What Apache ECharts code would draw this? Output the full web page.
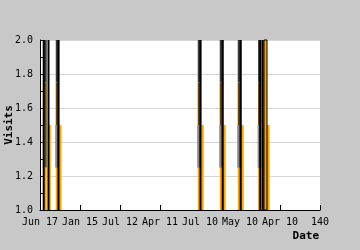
<!DOCTYPE html>
<html><head><meta charset="utf-8">
<script src="https://cdn.jsdelivr.net/npm/echarts@6/dist/echarts.min.js"></script>
<style>html,body{margin:0;padding:0;background:#c8c8c8}#c{width:360px;height:250px}</style>
</head><body><div id="c"></div>
<script>
// x axis tick labels (one per 20 units from 0 to 140)
const xTickLabels = ['Jun 17','Jan 15','Jul 12','Apr 11','Jul 10','May 10','Apr 10','140'];
// black spikes
const spikeX   = [1.85, 4.25, 9.25, 80.25, 91.35, 100.35, 110.1, 111.35];
const spikeVal = [2, 2, 2, 2, 2, 2, 2, 2];
// tall orange bars (shaded upper part)
const tallX    = [2.5, 8.75, 79.75, 90.75, 99.75, 109.9];
const tallVal  = [1.75, 1.75, 1.75, 1.75, 1.75, 1.75];
// short orange bars
const shortX   = [4.65, 10, 81.1, 92.1, 101.1, 111.5, 114];
const shortVal = [1.5, 1.5, 1.5, 1.5, 1.5, 1.5, 1.5];
// full-height orange bars
const fullX    = [112.75];
const fullVal  = [2.0];

const FONT = 'DejaVu Sans Mono';
const Y0 = 1;

function seg(api, x, y0, y1, w, style) {
  const a = api.coord([x, y0]), b = api.coord([x, y1]);
  return {type:'rect', shape:{x:a[0]-w/2, y:b[1], width:w, height:a[1]-b[1]}, style:style};
}
function zip(xs, vs){ return xs.map((x,i)=>[x, vs[i]]); }

const chart = echarts.init(document.getElementById('c'), null, {renderer:'canvas'});
chart.setOption({
  backgroundColor:'#c8c8c8',
  animation:false,
  grid:{left:40, right:40, top:40, bottom:40, containLabel:false, outerBoundsMode:'none', show:true, backgroundColor:'#ffffff', borderWidth:0},
  xAxis:{
    type:'value', min:0, max:140, interval:20,
    name:'Date', nameLocation:'end', nameGap:-1, nameMoveOverlap:false,
    nameTextStyle:{fontFamily:FONT, fontWeight:'bold', fontSize:11, color:'#000', align:'right', verticalAlign:'top', padding:[21,0,0,0]},
    axisLine:{show:true, onZero:false, lineStyle:{color:'#000', width:1}},
    axisTick:{show:true, inside:true, length:5, lineStyle:{color:'#000'}},
    axisLabel:{fontFamily:FONT, fontSize:10, color:'#000', margin:7, formatter:v=>xTickLabels[Math.round(v/20)]},
    splitLine:{show:false}
  },
  yAxis:[{
    type:'value', min:1, max:2, interval:0.2,
    name:'Visits', nameLocation:'middle', nameGap:25, nameMoveOverlap:false,
    nameTextStyle:{fontFamily:FONT, fontWeight:'bold', fontSize:11, color:'#000'},
    axisLine:{show:true, lineStyle:{color:'#000', width:1}},
    axisTick:{show:false},
    axisLabel:{fontFamily:FONT, fontSize:10, color:'#000', margin:7, formatter:v=>v.toFixed(1)},
    splitLine:{show:true, lineStyle:{color:'#d6d6d6'}}
  },{
    type:'value', min:1, max:2, interval:0.1, position:'left',
    axisLine:{show:false}, axisLabel:{show:false}, splitLine:{show:false},
    axisTick:{show:true, inside:true, length:3, lineStyle:{color:'#000'}}
  }],
  series:[
    {type:'custom', name:'tall', data:zip(tallX, tallVal), z:2,
     renderItem:(p, api)=>{
       const x = api.value(0), v = api.value(1);
       return {type:'group', children:[
         seg(api, x, Y0, 1.25, 3.5, {fill:'#ffa500'}),
         seg(api, x, 1.25, v, 3.5, {fill:'#6b4600'}),
         seg(api, x, v, 2, 3.5, {fill:'#3a3a3a'}),
         seg(api, x-0.6, 1.25, 1.5, 2, {fill:'#8c8c8c'})
       ]};
     }},
    {type:'custom', name:'short', data:zip(shortX, shortVal), z:3,
     renderItem:(p, api)=>seg(api, api.value(0), Y0, api.value(1), 3, {fill:'#ffa500'})},
    {type:'custom', name:'full', data:zip(fullX, fullVal), z:3,
     renderItem:(p, api)=>seg(api, api.value(0), Y0, api.value(1), 3, {fill:'#ffa500', stroke:'#000', lineWidth:1})},
    {type:'custom', name:'spikes', data:zip(spikeX, spikeVal), z:4,
     renderItem:(p, api)=>seg(api, api.value(0), Y0, api.value(1), 2, {fill:'#000'})}
  ]
});
</script></body></html>
